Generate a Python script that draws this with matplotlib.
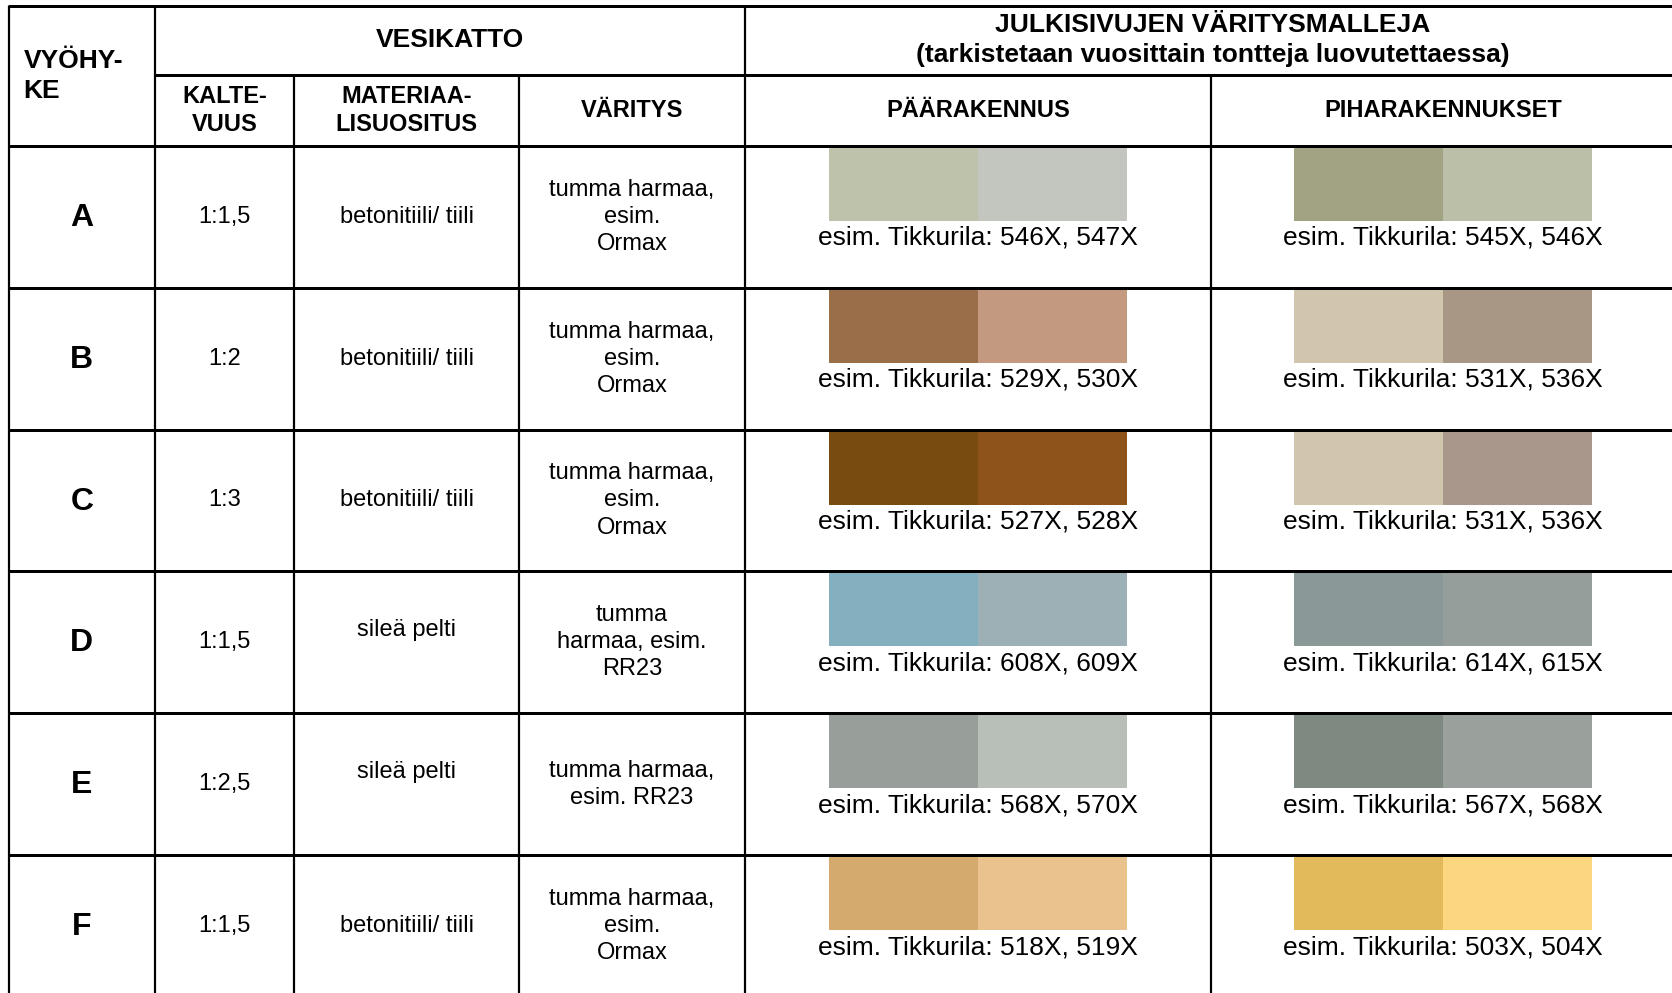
import matplotlib
matplotlib.use("Agg")
import matplotlib.pyplot as plt
from matplotlib.patches import Rectangle

plt.rcParams['font.family'] = ['Liberation Sans', 'DejaVu Sans']

# table content
zones = ['A', 'B', 'C', 'D', 'E', 'F']
slopes = ['1:1,5', '1:2', '1:3', '1:1,5', '1:2,5', '1:1,5']
materials = ['betonitiili/ tiili', 'betonitiili/ tiili', 'betonitiili/ tiili',
             'sileä pelti\n ', 'sileä pelti\n ', 'betonitiili/ tiili']
colorings = ['tumma harmaa,\nesim.\nOrmax', 'tumma harmaa,\nesim.\nOrmax',
             'tumma harmaa,\nesim.\nOrmax', 'tumma\nharmaa, esim.\nRR23',
             'tumma harmaa,\nesim. RR23', 'tumma harmaa,\nesim.\nOrmax']

main_codes = [('546X', '547X'), ('529X', '530X'), ('527X', '528X'),
              ('608X', '609X'), ('568X', '570X'), ('518X', '519X')]
main_colors = [('#bfc2aa', '#c3c6be'), ('#996e48', '#c39a80'), ('#784c10', '#8e521b'),
               ('#84afbe', '#9db0b5'), ('#989e99', '#b8beb8'), ('#d4aa6e', '#e9c28e')]
side_codes = [('545X', '546X'), ('531X', '536X'), ('531X', '536X'),
              ('614X', '615X'), ('567X', '568X'), ('503X', '504X')]
side_colors = [('#a2a383', '#bbbfa8'), ('#d2c5ae', '#a99785'), ('#d2c5ae', '#a8978a'),
               ('#8a9898', '#969e9c'), ('#7e8982', '#9aa09b'), ('#e3ba5b', '#fdd680')]

# layout (pixels)
W, H = 1672, 993
col_x = [8.5, 155, 294, 519, 745, 1211, 1680]
y_top, y_mid, y_head = 5.5, 74.5, 146
row_h = 141.8
hlw = 3 * 72 / 100
vlw = 2.2 * 72 / 100

fig = plt.figure(figsize=(W / 100, H / 100), dpi=100)
ax = fig.add_axes([0, 0, 1, 1])
ax.set_xlim(0, W)
ax.set_ylim(H, 0)
ax.axis('off')

# header texts
bold_big = dict(fontsize=19, fontweight='bold', color='black')
bold_small = dict(fontsize=17, fontweight='bold', color='black')
ax.text(23.5, (y_top + y_head) / 2, 'VYÖHY-\nKE', ha='left', va='center',
        linespacing=1.3, **bold_big)
ax.text((col_x[1] + col_x[4]) / 2, (y_top + y_mid) / 2, 'VESIKATTO',
        ha='center', va='center', **bold_big)
ax.text((col_x[4] + col_x[6]) / 2, (y_top + y_mid) / 2,
        'JULKISIVUJEN VÄRITYSMALLEJA\n(tarkistetaan vuosittain tontteja luovutettaessa)',
        ha='center', va='center', linespacing=1.28, **bold_big)
sub_heads = ['KALTE-\nVUUS', 'MATERIAA-\nLISUOSITUS', 'VÄRITYS', 'PÄÄRAKENNUS', 'PIHARAKENNUKSET']
for i, s in enumerate(sub_heads):
    xc = (col_x[i + 1] + col_x[i + 2]) / 2
    if i == 4:
        xc = 1443
    ax.text(xc, (y_mid + y_head) / 2, s, ha='center', va='center',
            linespacing=1.28, **bold_small)

# body rows
sw_w, sw_h = 298, 74
centers = [(col_x[4] + col_x[5]) / 2, 1443]
for r in range(len(zones)):
    top = y_head + r * row_h
    yc = top + row_h / 2
    ax.text((col_x[0] + col_x[1]) / 2, yc + 1, zones[r], ha='center', va='center',
            fontsize=23, fontweight='bold')
    ax.text((col_x[1] + col_x[2]) / 2, yc, slopes[r], ha='center', va='center', fontsize=17)
    ax.text((col_x[2] + col_x[3]) / 2, yc, materials[r], ha='center', va='center',
            fontsize=17, linespacing=1.15)
    ax.text((col_x[3] + col_x[4]) / 2, yc, colorings[r], ha='center', va='center',
            fontsize=17, linespacing=1.3)
    for xc, cols, codes in zip(centers, [main_colors[r], side_colors[r]],
                               [main_codes[r], side_codes[r]]):
        x0 = xc - sw_w / 2
        ax.add_patch(Rectangle((x0, top + 1), sw_w / 2, sw_h, facecolor=cols[0],
                               edgecolor='none', zorder=1))
        ax.add_patch(Rectangle((xc, top + 1), sw_w / 2, sw_h, facecolor=cols[1],
                               edgecolor='none', zorder=1))
        ax.text(xc, top + 92, 'esim. Tikkurila: %s, %s' % codes, ha='center',
                va='center', fontsize=19)

# grid lines
ax.hlines([y_top, y_head], col_x[0] - 1, W, color='black', lw=hlw, zorder=3)
ax.hlines(y_mid, col_x[1], W, color='black', lw=hlw, zorder=3)
row_lines = [y_head + row_h * i for i in range(1, len(zones))]
ax.hlines(row_lines, col_x[0], W, color='black', lw=hlw, zorder=3)
ax.vlines([col_x[0], col_x[1], col_x[4]], y_top, H + 5, color='black', lw=vlw, zorder=3)
ax.vlines([col_x[2], col_x[3], col_x[5]], y_mid, H + 5, color='black', lw=vlw, zorder=3)

fig.savefig('out.png', dpi=100, facecolor='white')
